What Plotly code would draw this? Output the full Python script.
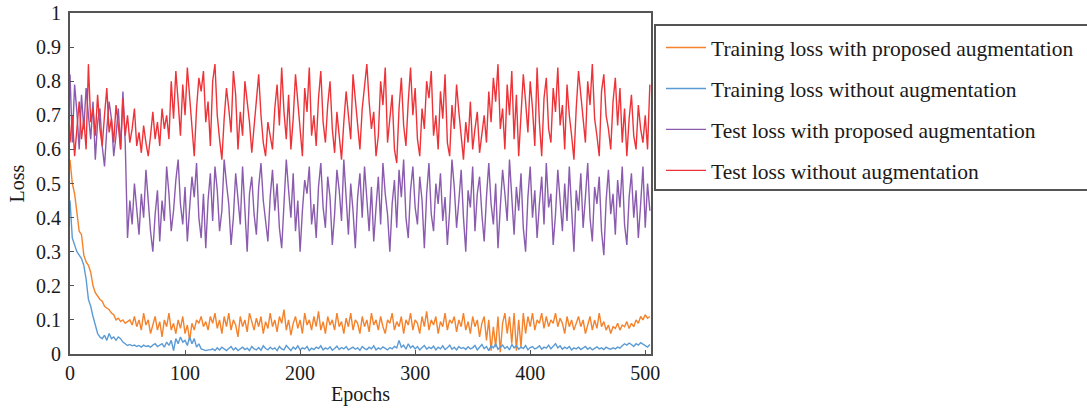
import plotly.graph_objects as go

names = [
    "Training loss with proposed augmentation",
    "Training loss without augmentation",
    "Test loss with proposed augmentation",
    "Test loss without augmentation",
]
colors = ["#F5822A", "#5B9BD5", "#8A5BAE", "#EE3338"]

train_aug = [
    0.57, 0.50, 0.47, 0.42, 0.36, 0.35, 0.29, 0.27, 0.26, 0.24, 0.20, 0.18, 0.17, 0.16, 0.155, 0.14,
    0.135, 0.13, 0.12, 0.115, 0.10, 0.105, 0.095, 0.10, 0.09, 0.095, 0.10, 0.085, 0.11, 0.08, 0.10, 0.07,
    0.12, 0.085, 0.10, 0.06, 0.09, 0.11, 0.07, 0.095, 0.05, 0.10, 0.08, 0.12, 0.07, 0.09, 0.06, 0.10,
    0.075, 0.11, 0.06, 0.085, 0.04, 0.09, 0.07, 0.10, 0.09, 0.11, 0.08, 0.095, 0.07, 0.11, 0.09, 0.12,
    0.075, 0.10, 0.06, 0.11, 0.08, 0.12, 0.07, 0.10, 0.085, 0.05, 0.11, 0.08, 0.10, 0.065, 0.12, 0.09,
    0.07, 0.105, 0.08, 0.11, 0.06, 0.095, 0.075, 0.12, 0.08, 0.10, 0.065, 0.11, 0.09, 0.13, 0.07, 0.10,
    0.055, 0.09, 0.11, 0.075, 0.10, 0.06, 0.12, 0.085, 0.10, 0.07, 0.11, 0.08, 0.125, 0.07, 0.095, 0.06,
    0.11, 0.085, 0.10, 0.07, 0.12, 0.08, 0.095, 0.06, 0.105, 0.08, 0.12, 0.07, 0.10, 0.09, 0.06, 0.11,
    0.08, 0.10, 0.065, 0.12, 0.085, 0.10, 0.07, 0.11, 0.08, 0.06, 0.10, 0.09, 0.12, 0.07, 0.095, 0.08,
    0.11, 0.06, 0.10, 0.085, 0.12, 0.07, 0.10, 0.09, 0.06, 0.11, 0.08, 0.125, 0.07, 0.10, 0.085, 0.11,
    0.06, 0.095, 0.08, 0.12, 0.07, 0.10, 0.09, 0.11, 0.065, 0.10, 0.08, 0.12, 0.07, 0.095, 0.06, 0.11,
    0.08, 0.10, 0.05, 0.09, 0.11, 0.04, 0.10, 0.01, 0.08, 0.02, 0.11, 0.005, 0.09, 0.12, 0.06, 0.11,
    0.03, 0.12, 0.01, 0.10, 0.02, 0.12, 0.06, 0.11, 0.08, 0.12, 0.07, 0.10, 0.09, 0.12, 0.075, 0.11,
    0.08, 0.10, 0.09, 0.12, 0.08, 0.105, 0.09, 0.06, 0.11, 0.08, 0.10, 0.07, 0.09, 0.11, 0.08, 0.10,
    0.06, 0.09, 0.11, 0.07, 0.10, 0.075, 0.12, 0.08, 0.095, 0.07, 0.085, 0.06, 0.08, 0.075, 0.09, 0.07,
    0.085, 0.08, 0.095, 0.075, 0.09, 0.08, 0.10, 0.09, 0.11, 0.10, 0.115, 0.105, 0.11,
]

train_noaug = [
    0.45, 0.34, 0.32, 0.30, 0.29, 0.28, 0.26, 0.22, 0.16, 0.14, 0.11, 0.08, 0.06, 0.05, 0.045, 0.055,
    0.04, 0.06, 0.045, 0.05, 0.04, 0.05, 0.045, 0.035, 0.03, 0.025, 0.028, 0.024, 0.026, 0.022, 0.025, 0.02,
    0.026, 0.022, 0.024, 0.02, 0.026, 0.03, 0.022, 0.025, 0.03, 0.02, 0.035, 0.025, 0.04, 0.01, 0.045, 0.03,
    0.05, 0.035, 0.04, 0.025, 0.05, 0.03, 0.045, 0.02, 0.03, 0.015, 0.012, 0.01, 0.012,
    0.012, 0.015, 0.01, 0.018, 0.012, 0.02, 0.014, 0.01, 0.016, 0.022, 0.012, 0.018, 0.01, 0.015, 0.02, 0.013,
    0.017, 0.01, 0.022, 0.015, 0.012, 0.019, 0.011, 0.024, 0.016, 0.012, 0.02, 0.014, 0.018, 0.01, 0.022, 0.015,
    0.012, 0.025, 0.018, 0.01, 0.02, 0.014, 0.024, 0.012, 0.018, 0.015, 0.022, 0.01, 0.017, 0.013, 0.02, 0.016,
    0.024, 0.012, 0.018, 0.014, 0.021, 0.011, 0.016, 0.023, 0.013, 0.019, 0.015, 0.022, 0.012, 0.017, 0.02, 0.014,
    0.018, 0.011, 0.022, 0.016, 0.013, 0.02, 0.015, 0.024, 0.012, 0.018, 0.014, 0.021, 0.016, 0.012, 0.019, 0.015,
    0.022, 0.018, 0.04, 0.02, 0.026, 0.014, 0.03, 0.018, 0.024, 0.015, 0.022, 0.012, 0.019, 0.025, 0.014, 0.02,
    0.016, 0.023, 0.012, 0.02, 0.015, 0.024, 0.013, 0.018, 0.026, 0.014, 0.02, 0.012, 0.022, 0.016, 0.019, 0.013,
    0.021, 0.015, 0.018, 0.025, 0.012, 0.02, 0.028, 0.016, 0.022, 0.01, 0.024, 0.018, 0.03, 0.014, 0.02, 0.026,
    0.016, 0.022, 0.012, 0.028, 0.018, 0.024, 0.014, 0.02, 0.016, 0.025, 0.012, 0.019, 0.022, 0.015, 0.018, 0.024,
    0.014, 0.02, 0.017, 0.026, 0.015, 0.022, 0.03, 0.018, 0.024, 0.014, 0.02, 0.016, 0.022, 0.012, 0.018, 0.015,
    0.02, 0.013, 0.017, 0.022, 0.014, 0.019, 0.012, 0.016, 0.021, 0.015, 0.018, 0.013, 0.02, 0.016, 0.014, 0.018,
    0.015, 0.02, 0.017, 0.024, 0.03, 0.026, 0.032, 0.028, 0.022, 0.03, 0.026, 0.033, 0.028, 0.024, 0.02, 0.028,
]

test_aug = [
    0.82, 0.62, 0.79, 0.71, 0.60, 0.76, 0.66, 0.78, 0.70, 0.63, 0.74, 0.57, 0.68, 0.72, 0.61, 0.55,
    0.66, 0.74, 0.69, 0.58, 0.64, 0.72, 0.60, 0.77, 0.62, 0.34, 0.45, 0.38, 0.50, 0.42, 0.35, 0.47,
    0.40, 0.54, 0.44, 0.36, 0.30, 0.41, 0.48, 0.33, 0.45, 0.39, 0.55, 0.47, 0.36, 0.42, 0.51, 0.57,
    0.44, 0.38, 0.49, 0.33, 0.43, 0.52, 0.46, 0.56, 0.40, 0.34, 0.47, 0.31, 0.45, 0.53, 0.39, 0.55,
    0.48, 0.36, 0.42, 0.57, 0.50, 0.44, 0.32, 0.40, 0.53, 0.46, 0.38, 0.55, 0.43, 0.30, 0.47, 0.52,
    0.41, 0.35, 0.49, 0.56, 0.45, 0.39, 0.33, 0.46, 0.54, 0.42, 0.50, 0.37, 0.31, 0.44, 0.57, 0.48,
    0.40, 0.53, 0.36, 0.45, 0.30, 0.42, 0.51, 0.47, 0.55, 0.38, 0.44, 0.34, 0.49, 0.56, 0.43, 0.37,
    0.52, 0.46, 0.32, 0.41, 0.54, 0.48, 0.39, 0.57, 0.44, 0.35, 0.50, 0.42, 0.31, 0.46, 0.53, 0.40,
    0.55, 0.45, 0.36, 0.49, 0.33, 0.43, 0.52, 0.38, 0.56, 0.47, 0.41, 0.30, 0.44, 0.51, 0.37, 0.54,
    0.46, 0.57, 0.40, 0.34, 0.48, 0.55, 0.43, 0.38, 0.52, 0.45, 0.31, 0.47, 0.56, 0.41, 0.36, 0.50,
    0.44, 0.53, 0.39, 0.46, 0.32, 0.42, 0.57, 0.49, 0.37, 0.45, 0.54, 0.40, 0.30, 0.48, 0.43, 0.55,
    0.36, 0.47, 0.52, 0.41, 0.33, 0.46, 0.56, 0.44, 0.38, 0.50, 0.31, 0.43, 0.54, 0.47, 0.39, 0.57,
    0.45, 0.35, 0.49, 0.42, 0.53, 0.37, 0.30, 0.46, 0.55, 0.40, 0.48, 0.34, 0.44, 0.52, 0.38, 0.56,
    0.43, 0.47, 0.32, 0.41, 0.54, 0.45, 0.36, 0.50, 0.39, 0.55, 0.44, 0.30, 0.48, 0.42, 0.53, 0.37,
    0.46, 0.56, 0.40, 0.33, 0.49, 0.44, 0.52, 0.36, 0.29, 0.45, 0.54, 0.41, 0.47, 0.35, 0.51, 0.43,
    0.55, 0.38, 0.32, 0.46, 0.53, 0.40, 0.48, 0.34, 0.44, 0.55, 0.37, 0.50, 0.42,
]

test_noaug = [
    0.62, 0.70, 0.58, 0.66, 0.74, 0.63, 0.69, 0.60, 0.85, 0.68, 0.72, 0.64, 0.76, 0.66, 0.61, 0.70,
    0.78, 0.65, 0.69, 0.62, 0.73, 0.67, 0.60, 0.75, 0.64, 0.70, 0.62, 0.66, 0.72, 0.61, 0.65, 0.59,
    0.67, 0.62, 0.58, 0.64, 0.71, 0.63, 0.68, 0.61, 0.72, 0.66, 0.70, 0.63, 0.80, 0.69, 0.83, 0.74,
    0.64, 0.79, 0.70, 0.84, 0.76, 0.66, 0.58, 0.72, 0.81, 0.77, 0.83, 0.68, 0.74, 0.61, 0.80, 0.85,
    0.70, 0.63, 0.57, 0.69, 0.78, 0.72, 0.65, 0.83, 0.76, 0.60, 0.71, 0.64, 0.80, 0.74, 0.68, 0.59,
    0.66, 0.75, 0.82, 0.70, 0.62, 0.58, 0.68, 0.64, 0.60, 0.72, 0.79, 0.67, 0.84, 0.71, 0.63, 0.76,
    0.60, 0.69, 0.82, 0.74, 0.66, 0.58, 0.78, 0.71, 0.84, 0.64, 0.70, 0.61, 0.75, 0.83, 0.68, 0.62,
    0.73, 0.80, 0.66, 0.59, 0.71, 0.64, 0.57, 0.68, 0.77, 0.70, 0.63, 0.82, 0.75, 0.67, 0.60, 0.72,
    0.79, 0.85, 0.74, 0.66, 0.71, 0.58, 0.64, 0.80, 0.73, 0.84, 0.62, 0.69, 0.76, 0.60, 0.56, 0.72,
    0.81, 0.67, 0.61, 0.74, 0.84, 0.70, 0.78, 0.63, 0.58, 0.72, 0.66, 0.80, 0.75, 0.83, 0.64, 0.70,
    0.60, 0.77, 0.69, 0.82, 0.62, 0.58, 0.73, 0.66, 0.79, 0.71, 0.64, 0.57, 0.68, 0.62, 0.74, 0.60,
    0.66, 0.71, 0.59, 0.64, 0.70, 0.62, 0.77, 0.68, 0.81, 0.74, 0.85, 0.66, 0.72, 0.60, 0.79, 0.70,
    0.83, 0.63, 0.76, 0.58, 0.69, 0.82, 0.74, 0.65, 0.80, 0.72, 0.61, 0.84, 0.68, 0.58, 0.75, 0.81,
    0.66, 0.62, 0.78, 0.71, 0.84, 0.67, 0.73, 0.60, 0.79, 0.70, 0.64, 0.57, 0.72, 0.83, 0.76, 0.68,
    0.62, 0.80, 0.73, 0.85, 0.69, 0.64, 0.58, 0.77, 0.82, 0.70, 0.66, 0.60, 0.74, 0.81, 0.67, 0.78,
    0.62, 0.72, 0.58, 0.69, 0.76, 0.64, 0.60, 0.73, 0.66, 0.62, 0.70, 0.60, 0.79,
]

series = [train_aug, train_noaug, test_aug, test_noaug]
epoch_step = 2

x_ticks = [0, 100, 200, 300, 400, 500]
y_ticks = [0, 0.1, 0.2, 0.3, 0.4, 0.5, 0.6, 0.7, 0.8, 0.9, 1]
y_tick_labels = ["0", "0.1", "0.2", "0.3", "0.4", "0.5", "0.6", "0.7", "0.8", "0.9", "1"]

FONT = "Liberation Serif"

fig = go.Figure()
for name, color, vals in zip(names, colors, series):
    epochs = [epoch_step * i for i in range(len(vals))]
    fig.add_trace(go.Scatter(
        x=epochs, y=vals, mode="lines", name=name, legendgroup=name,
        line=dict(color=color, width=1.4),
    ))

# The page body margin is removed below, so window pixels equal figure pixels.
W, H = 1087, 413
L, R, T, B = 70, 651, 13, 354

def px_to_paper_x(px):
    return (px - L) / (R - L)

def px_to_paper_y(py):
    return (B - py) / (B - T)

fig.update_layout(
    width=W, height=H,
    margin=dict(l=L, r=W - R, t=T, b=H - B, autoexpand=False),
    paper_bgcolor="white", plot_bgcolor="white",
    font=dict(family=FONT, size=20, color="#1a1a1a"),
    showlegend=True,
    legend=dict(
        x=px_to_paper_x(661), xanchor="left",
        y=px_to_paper_y(27), yanchor="top",
        font=dict(family=FONT, size=21.5, color="#1a1a1a"),
        bgcolor="rgba(0,0,0,0)", borderwidth=0,
        traceorder="grouped", tracegroupgap=10,
        itemwidth=40,
    ),
    shapes=[dict(
        type="rect", xref="paper", yref="paper",
        x0=px_to_paper_x(655), x1=px_to_paper_x(1100),
        y0=px_to_paper_y(190), y1=px_to_paper_y(25),
        line=dict(color="#555555", width=2), fillcolor="white", layer="below",
    )],
)

fig.update_xaxes(
    range=[0, 505], tickvals=x_ticks, ticks="inside", ticklen=4, tickcolor="#555555",
    showline=True, linecolor="#555555", linewidth=2, mirror=True,
    showgrid=False, zeroline=False, automargin=False, ticklabeloverflow="allow",
    title=dict(text="Epochs", font=dict(family=FONT, size=20), standoff=4),
    tickfont=dict(family=FONT, size=20),
)
fig.update_yaxes(
    range=[0, 1], tickvals=y_ticks, ticktext=y_tick_labels, ticks="inside", ticklen=4,
    tickcolor="#555555", ticklabelstandoff=3, ticklabeloverflow="allow",
    showline=True, linecolor="#555555", linewidth=2, mirror=True,
    showgrid=False, zeroline=False, automargin=False,
    title=dict(text="Loss", font=dict(family=FONT, size=20), standoff=6),
    tickfont=dict(family=FONT, size=20),
)

fig.write_html(
    "out.html",
    config={"displayModeBar": False},
    post_script="document.body.style.margin='0';",
)
